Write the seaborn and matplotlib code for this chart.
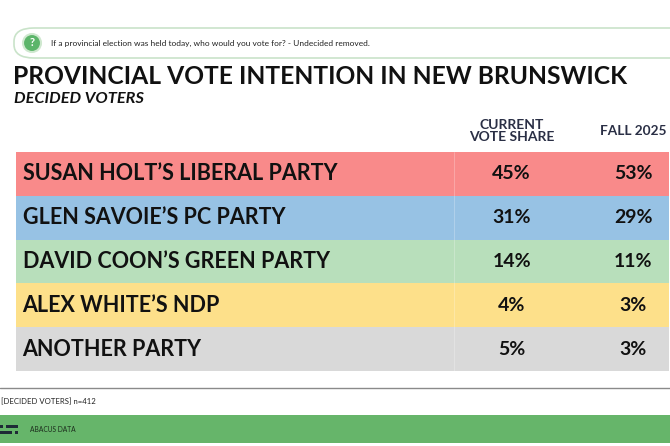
import matplotlib
matplotlib.use("Agg")
import matplotlib.pyplot as plt
from matplotlib.patches import FancyBboxPatch, Rectangle, Ellipse
import seaborn as sns
import pandas as pd

# table data
parties = ["SUSAN HOLT\u2019S LIBERAL PARTY", "GLEN SAVOIE\u2019S PC PARTY",
           "DAVID COON\u2019S GREEN PARTY", "ALEX WHITE\u2019S NDP", "ANOTHER PARTY"]
current_share = [45, 31, 14, 4, 5]
fall_2025 = [53, 29, 11, 3, 3]
row_colors = ["#f98a8a", "#97c2e4", "#b8dfbb", "#fde08a", "#d9d9d9"]
col_headers = ["CURRENT\nVOTE SHARE", "FALL 2025"]

question = "If a provincial election was held today, who would you vote for? - Undecided removed."
title = "PROVINCIAL VOTE INTENTION IN NEW BRUNSWICK"
subtitle = "DECIDED VOTERS"
sample_note = "[DECIDED VOTERS] n=412"

df = pd.DataFrame({"party": parties, "current": current_share, "fall": fall_2025})
df["band"] = 1

sns.set_theme(style="white")
plt.rcParams["font.family"] = ["Lato", "DejaVu Sans"]

W, H = 670, 446
fig = plt.figure(figsize=(W / 100, H / 100), dpi=100)

def fx(px):
    return px / W

def fy(py):
    return 1 - py / H

# question box
fig.patches.append(FancyBboxPatch((fx(14), fy(58)), fx(700), fy(28) - fy(58),
                                  boxstyle="round,pad=0,rounding_size=0.03",
                                  transform=fig.transFigure, facecolor="white",
                                  edgecolor="#c9e3c9", linewidth=1.2))
fig.patches.append(Ellipse((fx(32), fy(43)), fx(18), 18 / H, transform=fig.transFigure,
                           facecolor="#5cb56a", edgecolor="#cfe8cf", linewidth=1.5))
fig.text(fx(32), fy(43), "?", color="white", fontsize=8, fontweight="bold",
         ha="center", va="center")
fig.text(fx(51), fy(43), question, fontsize=6.0, color="#222222", va="center")

# titles
fig.text(fx(13), fy(77), title, fontsize=17.7, fontweight="bold", color="#111111", va="center")
fig.text(fx(14), fy(99), subtitle, fontsize=11.8, fontweight="bold", style="italic",
         color="#111111", va="center")

# column headers
col_x = [0.759, 0.945]
fig.text(fx(512), fy(131), col_headers[0], fontsize=10, fontweight="bold", color="#2a2f45",
         ha="center", va="center", linespacing=1.05)
fig.text(fx(633), fy(131), col_headers[1], fontsize=9.8, fontweight="bold", color="#2a2f45",
         ha="center", va="center")

# table
ax = fig.add_axes([fx(16), fy(371), fx(669) - fx(16), fy(152) - fy(371)])
sns.barplot(data=df, x="band", y="party", hue="party", palette=row_colors,
            width=1.0, legend=False, ax=ax, orient="h", saturation=1, linewidth=0)
ax.set_xlim(0, 1)
ax.set_ylim(len(parties) - 0.5, -0.5)
for i, row in df.iterrows():
    ax.text(0.01, i, row["party"], fontsize=15.5, fontweight="bold", color="#111111",
            va="center", ha="left")
    ax.text(col_x[0], i, f"{row['current']}%", fontsize=14, fontweight="bold",
            color="#111111", va="center", ha="center")
    ax.text(col_x[1], i, f"{row['fall']}%", fontsize=14, fontweight="bold",
            color="#111111", va="center", ha="center")
ax.axvline(0.671, color="white", linewidth=0.5, alpha=0.35)
ax.set_axis_off()

# footer
fig.add_artist(plt.Line2D([0, 1], [fy(388), fy(388)], transform=fig.transFigure,
                          color="#8a8a8a", linewidth=1))
fig.text(fx(1), fy(402), sample_note, fontsize=5.6, color="#222222", va="center")
fig.patches.append(Rectangle((0, fy(443)), 1, fy(415) - fy(443), transform=fig.transFigure,
                             facecolor="#66b56a", edgecolor="none"))
fig.text(fx(30), fy(429), "ABACUS DATA", fontsize=4.8, color="#1c2b1c", va="center")
# logo
for x0, y0, w in [(0, 425, 3), (6, 425, 12), (0, 431, 12), (15, 431, 3)]:
    fig.patches.append(Rectangle((fx(x0), fy(y0 + 3)), fx(w), 3 / H, transform=fig.transFigure,
                                 facecolor="#1e2a36", edgecolor="none"))

fig.savefig("out.png", dpi=100)
